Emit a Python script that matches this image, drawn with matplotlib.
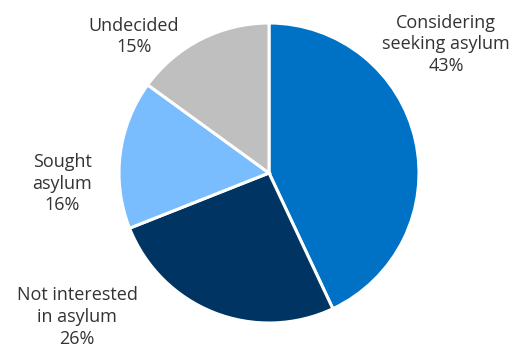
import matplotlib.pyplot as plt

# Shares of respondents by asylum intention.
categories = ["Considering\nseeking asylum", "Not interested\nin asylum", "Sought\nasylum", "Undecided"]
shares = [43, 26, 16, 15]
colors = ["#0072C6", "#003462", "#7ABDFF", "#BFBFBF"]

# Label anchor points in data units (pie radius = 1).
label_pos = [(1.18, 0.86), (-1.28, -0.96), (-1.38, -0.07), (-0.90, 0.91)]

plt.rcParams["font.family"] = ["Open Sans", "DejaVu Sans"]

fig = plt.figure(figsize=(5.13, 3.49), dpi=100)
ax = fig.add_axes([119 / 513, 26 / 349, 300 / 513, 300 / 349])

ax.pie(shares, colors=colors, startangle=90, counterclock=False, radius=1,
       wedgeprops=dict(edgecolor="white", linewidth=2.2))

for name, val, (x, y) in zip(categories, shares, label_pos):
    ax.text(x, y, f"{name}\n{val}%", ha="center", va="center", fontsize=13,
            color="#333333", linespacing=1.25, clip_on=False)

ax.set_xlim(-1, 1)
ax.set_ylim(-1, 1)
ax.set_aspect("equal")
ax.axis("off")

fig.savefig("out.png", dpi=100)
